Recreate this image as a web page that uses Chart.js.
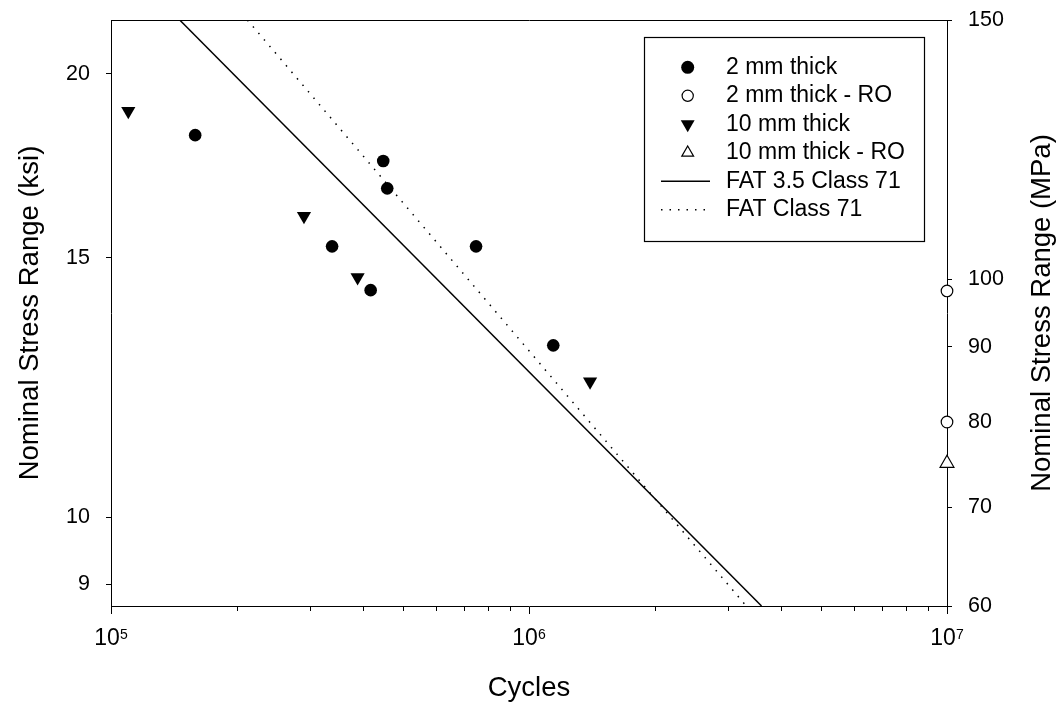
<!DOCTYPE html>
<html>
<head>
<meta charset="utf-8">
<script src="https://cdn.jsdelivr.net/npm/chart.js@4.4.1/dist/chart.umd.min.js"></script>
<style>
html, body { margin: 0; padding: 0; background: #fff; }
#wrap { position: relative; width: 1061px; height: 705px; }
</style>
</head>
<body>
<div id="wrap"><canvas id="snChart"></canvas></div>
<script>
// test results (stress in ksi)
const thin2mmCycles = [1.59e5, 4.48e5, 4.58e5, 3.38e5, 4.18e5, 7.47e5, 1.143e6];
const thin2mmKsi = [18.17, 17.45, 16.72, 15.27, 14.26, 15.27, 13.08];
const thick10mmCycles = [1.10e5, 2.895e5, 3.89e5, 1.40e6];
const thick10mmKsi = [18.87, 16.01, 14.55, 12.36];
// run-outs at 10^7 (stress in MPa)
const thin2mmRoCycles = [1e7, 1e7];
const thin2mmRoMpa = [98.2, 80.0];
const thick10mmRoCycles = [1e7];
const thick10mmRoMpa = [75.0];
// design curves (MPa)
const fat35Cycles = [1.46e5, 3.6e6];
const fat35Mpa = [150, 60];
const fat3Cycles = [2.12e5, 3.31e6];
const fat3Mpa = [150, 60];

const xMajorTicks = [1e5, 1e6, 1e7];
const xMinorTicks = [2e5, 3e5, 4e5, 5e5, 6e5, 7e5, 8e5, 9e5, 2e6, 3e6, 4e6, 5e6, 6e6, 7e6, 8e6, 9e6];
const ksiTicks = [9, 10, 15, 20];
const mpaTicks = [60, 70, 80, 90, 100, 150];
const MPA_PER_KSI = 6.895;
const MPA_MIN = 60, MPA_MAX = 150;

const FONT = '"Liberation Sans", Arial, Helvetica, sans-serif';
Chart.defaults.font.family = FONT;
Chart.defaults.color = "#000";

function zip(xs, ys) {
	return xs.map((x, i) => ({ x: x, y: ys[i] }));
}

// keep the plot frame fixed: no extra label padding from the y axes
function fixWidth(w) {
	return (s) => {
		s.width = w;
		s.paddingTop = 0;
		s.paddingBottom = 0;
	};
}

// minor ticks on the cycles axis are shorter than the decade ticks
const minorTicks = {
	id: "minorTicks",
	afterDraw(chart) {
		const { ctx, chartArea, scales: { x } } = chart;
		ctx.save();
		ctx.strokeStyle = "#000";
		ctx.lineWidth = 1;
		xMinorTicks.forEach((v) => {
			const px = Math.round(x.getPixelForValue(v)) + 0.5;
			ctx.beginPath();
			ctx.moveTo(px, chartArea.bottom);
			ctx.lineTo(px, chartArea.bottom + 5);
			ctx.stroke();
		});
		ctx.restore();
	},
};

// 10^n labels with a raised exponent
const powerLabels = {
	id: "powerLabels",
	afterDraw(chart) {
		const { ctx, chartArea, scales: { x } } = chart;
		ctx.save();
		ctx.fillStyle = "#000";
		xMajorTicks.forEach((v) => {
			const px = x.getPixelForValue(v);
			const exp = String(Math.round(Math.log10(v)));
			ctx.font = "23px " + FONT;
			const w1 = ctx.measureText("10").width;
			ctx.font = "14px " + FONT;
			const w2 = ctx.measureText(exp).width;
			const start = px - (w1 + w2) / 2;
			ctx.font = "23px " + FONT;
			ctx.textBaseline = "middle";
			ctx.textAlign = "left";
			ctx.fillText("10", start, chartArea.bottom + 33);
			ctx.font = "14px " + FONT;
			ctx.textBaseline = "top";
			ctx.fillText(exp, start + w1, chartArea.bottom + 22);
		});
		ctx.restore();
	},
};

// right axis title reads bottom-to-top like the left one
const rightTitle = {
	id: "rightTitle",
	afterDraw(chart) {
		const { ctx, chartArea } = chart;
		ctx.save();
		ctx.translate(chartArea.right + 95, (chartArea.top + chartArea.bottom) / 2);
		ctx.rotate(-Math.PI / 2);
		ctx.font = "27.5px " + FONT;
		ctx.fillStyle = "#000";
		ctx.textAlign = "center";
		ctx.textBaseline = "middle";
		ctx.fillText("Nominal Stress Range (MPa)", 0, 0);
		ctx.restore();
	},
};

// boxed legend inside the plot, top right
const boxLegend = {
	id: "boxLegend",
	afterDraw(chart) {
		const { ctx, chartArea } = chart;
		const left = chartArea.right - 303;
		const top = chartArea.top + 17;
		const w = 280, h = 204;
		ctx.save();
		ctx.fillStyle = "#fff";
		ctx.fillRect(left, top, w, h);
		ctx.strokeStyle = "#000";
		ctx.lineWidth = 1.2;
		ctx.strokeRect(left + 0.5, top + 0.5, w, h);
		chart.data.datasets.forEach((ds, i) => {
			const y = top + 30.3 + i * 28.5;
			ctx.strokeStyle = "#000";
			if (ds.showLine) {
				ctx.lineWidth = ds.borderWidth;
				ctx.setLineDash(ds.borderDash || []);
				ctx.beginPath();
				ctx.moveTo(left + 17, y);
				ctx.lineTo(left + 66, y);
				ctx.stroke();
				ctx.setLineDash([]);
			} else {
				ctx.fillStyle = ds.backgroundColor;
				ctx.lineWidth = ds.pointBorderWidth;
				Chart.helpers.drawPoint(
					ctx,
					{
						pointStyle: ds.pointStyle,
						radius: ds.legendRadius,
						rotation: ds.pointRotation || 0,
						borderWidth: ds.pointBorderWidth,
					},
					left + 43.7,
					y,
				);
			}
			ctx.fillStyle = "#000";
			ctx.font = "23px " + FONT;
			ctx.textAlign = "left";
			ctx.textBaseline = "middle";
			ctx.fillText(ds.label, left + 82, y);
		});
		ctx.restore();
	},
};

new Chart(document.getElementById("snChart"), {
	type: "scatter",
	data: {
		datasets: [
			{
				label: "2 mm thick",
				data: zip(thin2mmCycles, thin2mmKsi),
				yAxisID: "y",
				pointStyle: "circle",
				pointRadius: 6.3,
				legendRadius: 6.5,
				backgroundColor: "#000",
				borderColor: "#000",
				pointBorderWidth: 0,
			},
			{
				label: "2 mm thick - RO",
				data: zip(thin2mmRoCycles, thin2mmRoMpa),
				yAxisID: "y2",
				pointStyle: "circle",
				pointRadius: 5.8,
				legendRadius: 5.6,
				backgroundColor: "#fff",
				borderColor: "#000",
				pointBorderWidth: 1.2,
				clip: false,
			},
			{
				label: "10 mm thick",
				data: zip(thick10mmCycles, thick10mmKsi),
				yAxisID: "y",
				pointStyle: "triangle",
				pointRotation: 180,
				pointRadius: 8.2,
				legendRadius: 8,
				backgroundColor: "#000",
				borderColor: "#000",
				pointBorderWidth: 0,
			},
			{
				label: "10 mm thick - RO",
				data: zip(thick10mmRoCycles, thick10mmRoMpa),
				yAxisID: "y2",
				pointStyle: "triangle",
				pointRadius: 8,
				legendRadius: 6.8,
				backgroundColor: "#fff",
				borderColor: "#000",
				pointBorderWidth: 1.2,
				clip: false,
			},
			{
				label: "FAT 3.5 Class 71",
				data: zip(fat35Cycles, fat35Mpa),
				yAxisID: "y2",
				showLine: true,
				borderColor: "#000",
				borderWidth: 1.5,
				pointRadius: 0,
			},
			{
				label: "FAT Class 71",
				data: zip(fat3Cycles, fat3Mpa),
				yAxisID: "y2",
				showLine: true,
				borderColor: "#000",
				borderWidth: 1.5,
				borderDash: [1.5, 7],
				pointRadius: 0,
			},
		],
	},
	plugins: [minorTicks, powerLabels, rightTitle, boxLegend],
	options: {
		responsive: true,
		maintainAspectRatio: false,
		animation: false,
		events: [],
		layout: { padding: 0 },
		plugins: {
			legend: { display: false },
			tooltip: { enabled: false },
		},
		scales: {
			x: {
				type: "logarithmic",
				position: "bottom",
				min: 1e5,
				max: 1e7,
				afterBuildTicks: (s) => {
					s.ticks = xMajorTicks.map((v) => ({ value: v }));
				},
				afterFit: (s) => {
					s.height = 99;
				},
				ticks: { autoSkip: false, maxRotation: 0, callback: () => "" },
				grid: { drawOnChartArea: false, tickLength: 8, color: "#000" },
				border: { color: "#000", width: 1 },
				title: {
					display: true,
					text: "Cycles",
					font: { size: 27.5 },
					padding: { top: 0, bottom: 0 },
				},
			},
			xTop: {
				type: "logarithmic",
				position: "top",
				min: 1e5,
				max: 1e7,
				afterFit: (s) => {
					s.height = 20;
				},
				ticks: { display: false },
				grid: { display: false },
				border: { color: "#000", width: 1 },
			},
			y: {
				type: "logarithmic",
				position: "left",
				min: MPA_MIN / MPA_PER_KSI,
				max: MPA_MAX / MPA_PER_KSI,
				afterBuildTicks: (s) => {
					s.ticks = ksiTicks.map((v) => ({ value: v }));
				},
				afterFit: fixWidth(111),
				ticks: {
					autoSkip: false,
					padding: 16,
					font: { size: 21.5 },
					callback: (v) => String(v),
				},
				grid: { drawOnChartArea: false, tickLength: 5, color: "#000" },
				border: { color: "#000", width: 1 },
				title: {
					display: true,
					text: "Nominal Stress Range (ksi)",
					font: { size: 27.5 },
					padding: { top: 14, bottom: 0 },
				},
			},
			y2: {
				type: "logarithmic",
				position: "right",
				min: MPA_MIN,
				max: MPA_MAX,
				afterBuildTicks: (s) => {
					s.ticks = mpaTicks.map((v) => ({ value: v }));
				},
				afterFit: fixWidth(114),
				ticks: {
					autoSkip: false,
					padding: 16,
					font: { size: 21.5 },
					callback: (v) => String(v),
				},
				grid: { drawOnChartArea: false, tickLength: 5, color: "#000" },
				border: { color: "#000", width: 1 },
			},
		},
	},
});
</script>
</body>
</html>
